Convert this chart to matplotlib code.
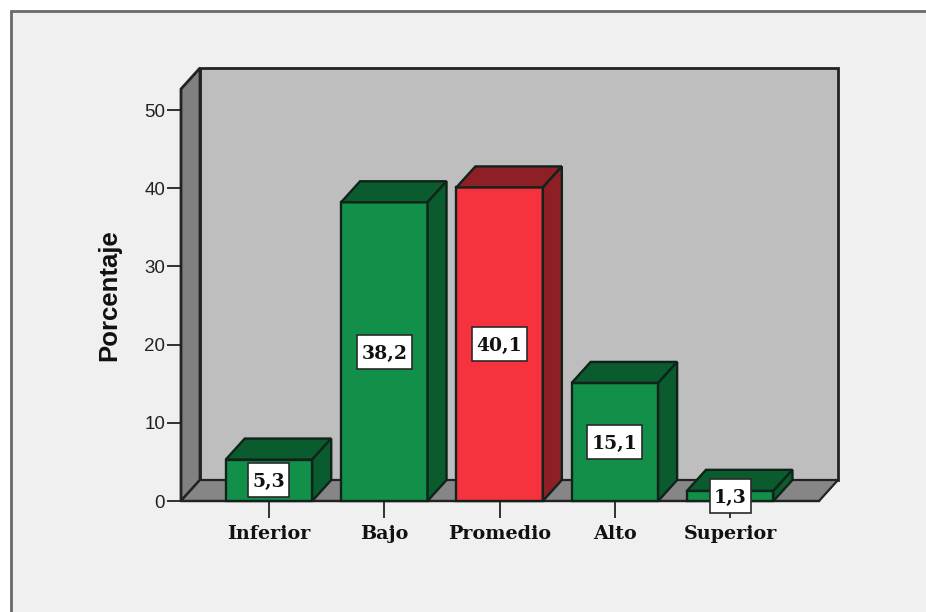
import matplotlib
matplotlib.use("Agg")
import matplotlib.pyplot as plt
from matplotlib.lines import Line2D
from matplotlib.patches import Polygon, Rectangle

categorias = ["Inferior", "Bajo", "Promedio", "Alto", "Superior"]
porcentajes = [5.3, 38.2, 40.1, 15.1, 1.3]
etiquetas = ["5,3", "38,2", "40,1", "15,1", "1,3"]
marcas_y = [0, 10, 20, 30, 40, 50]

W, H = 926, 612
VERDE = ("#12904a", "#0a5c2e")
ROJO = ("#f5323e", "#8e1f26")
LINEA = "#10231a"

fig = plt.figure(figsize=(W / 100, H / 100), dpi=100, facecolor="white")

# captura recortada: solo se ve el borde de arriba y el de la izquierda
fig.add_artist(Rectangle((10 / W, 0), 1, 1 - 11 / H, transform=fig.transFigure,
                         facecolor="#f0f0f0", edgecolor="none", zorder=-2))
fig.add_artist(Line2D([10.5 / W, 10.5 / W, 1], [0, 1 - 11 / H, 1 - 11 / H], transform=fig.transFigure,
                      color="#6a6a6a", lw=2, zorder=-1, solid_joinstyle="miter"))

# ejes = plano frontal del grafico, en pixeles 181..819 / 501..89
ax = fig.add_axes([181 / W, 1 - 501 / H, 638 / W, 412 / H])
ax.patch.set_visible(False)
ax.set_xlim(-0.763, 4.77)
ax.set_ylim(0, 412 / 7.82)
for s in ax.spines.values():
    s.set_visible(False)

px_x = 5.533 / 638
px_y = 1 / 7.82
dx = 19 * px_x
dy = 21 * px_y
x0, x1 = ax.get_xlim()
ytop = ax.get_ylim()[1]


def poli(pts, color, lw=1.6, ec="#222222", z=1):
    ax.add_patch(Polygon(pts, closed=True, facecolor=color, edgecolor=ec, lw=lw,
                         clip_on=False, zorder=z, joinstyle="miter"))


# paredes del fondo
poli([(x0 + dx, dy), (x1 + dx, dy), (x1 + dx, ytop + dy), (x0 + dx, ytop + dy)], "#bebebe", lw=2)
poli([(x0, 0), (x0 + dx, dy), (x0 + dx, ytop + dy), (x0, ytop)], "#808080", lw=2)
poli([(x0, 0), (x1, 0), (x1 + dx, dy), (x0 + dx, dy)], "#868686")

# barras
ancho = 0.75
for i, v in enumerate(porcentajes):
    claro, oscuro = ROJO if categorias[i] == "Promedio" else VERDE
    a, b = i - ancho / 2, i + ancho / 2
    ax.bar(i, v, width=ancho, color=claro, edgecolor=LINEA, lw=1.7, zorder=3, clip_on=False)
    poli([(a, v), (b, v), (b + dx, v + dy), (a + dx, v + dy)], oscuro, lw=1.7, ec=LINEA, z=3)
    poli([(b, 0), (b + dx, dy), (b + dx, v + dy), (b, v)], oscuro, lw=1.7, ec=LINEA, z=3)

# etiquetas de valor, caja blanca centrada en media barra
for i, v in enumerate(porcentajes):
    caja_w = (41 if len(etiquetas[i]) == 3 else 55) * px_x
    caja_h = 34 * px_y
    ax.add_patch(Rectangle((i - caja_w / 2, v / 2 - caja_h / 2), caja_w, caja_h, facecolor="white",
                           edgecolor="#2a2a2a", lw=1.2, zorder=5, clip_on=False))
    ax.text(i, v / 2, etiquetas[i], ha="center", va="center_baseline", zorder=6,
            family="DejaVu Serif", fontweight="bold", fontsize=13.5, color="#111111")

ax.axhline(0, color="#222222", lw=1.6, zorder=2, clip_on=False)

ax.set_yticks(marcas_y)
ax.set_yticklabels([str(m) for m in marcas_y], family="Liberation Sans", fontsize=13.5, color="#222222")
ax.tick_params(axis="y", length=10, width=1.3, color="#222222", pad=1.5)
ax.set_xticks(range(len(categorias)))
ax.set_xticklabels(categorias, family="DejaVu Serif", fontweight="bold", fontsize=13.8, color="#111111")
ax.tick_params(axis="x", length=12, width=1.3, color="#222222", pad=5)
ax.set_ylabel("Porcentaje", family="Liberation Sans", fontweight="bold", fontsize=18.5, color="#111111")
ax.yaxis.set_label_coords((121 - 181) / 638, (501 - 295) / 412)

fig.savefig("out.png", dpi=100, facecolor=fig.get_facecolor())
